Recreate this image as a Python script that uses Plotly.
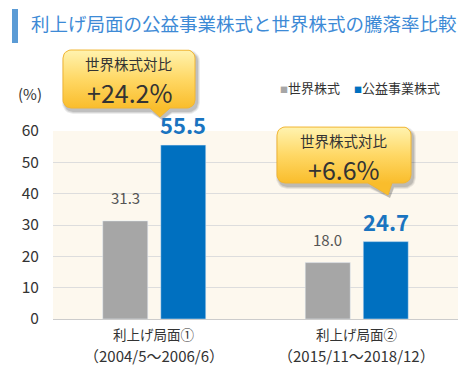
import plotly.graph_objects as go
import math

period_names = ["利上げ局面①", "利上げ局面②"]
period_ranges = ["（2004/5～2006/6）", "（2015/11～2018/12）"]
world_vals = [31.3, 18.0]
util_vals = [55.5, 24.7]
series_names = ["世界株式", "公益事業株式"]
callout_titles = ["世界株式対比", "世界株式対比"]
callout_values = ["+24.2%", "+6.6%"]
y_ticks = [0, 10, 20, 30, 40, 50, 60]
title_text = "利上げ局面の公益事業株式と世界株式の騰落率比較"

categories = period_names

FONT = "Noto Sans CJK JP"
PAGE_W, PAGE_H = 470, 365
OFF = 8  # default body margin of the html page
W, H = PAGE_W - OFF, PAGE_H - OFF
GRAY = "#a6a6a6"
BLUE = "#0070c0"

# plot area in page pixels
PL, PR, PT, PB = 53, 458, 131, 319

fig = go.Figure()

fig.add_trace(go.Bar(
    x=categories, y=world_vals, name=series_names[0], marker_color=GRAY,
    showlegend=False, xaxis="x", yaxis="y", hoverinfo="skip"))
fig.add_trace(go.Bar(
    x=categories, y=util_vals, name=series_names[1], marker_color=BLUE,
    showlegend=False, xaxis="x", yaxis="y", hoverinfo="skip"))


def callout(x0, y0, x1, y1, r, pb0, pb1, tip):
    pts = []
    def arc(cx, cy, a0, a1):
        for i in range(7):
            a = math.radians(a0 + (a1 - a0) * i / 6)
            pts.append((cx + r * math.cos(a), cy + r * math.sin(a)))
    arc(x0 + r, y0 + r, 180, 270)
    arc(x1 - r, y0 + r, 270, 360)
    arc(x1 - r, y1 - r, 0, 90)
    pts.append((pb1, y1))
    pts.append(tip)
    pts.append((pb0, y1))
    arc(x0 + r, y1 - r, 90, 180)
    pts.append(pts[0])
    return [p[0] for p in pts], [p[1] for p in pts]


callouts = [
    dict(box=(63, 50, 195, 108), pb=(150, 170), tip=(160, 117)),
    dict(box=(277, 127, 411, 183), pb=(368, 392), tip=(388, 195)),
]
for c in callouts:
    x0, y0, x1, y1 = c["box"]
    for off, alpha in [(3, 0.07), (2, 0.09), (1, 0.11)]:
        sx, sy = callout(x0 - off + 2, y0 - off + 3, x1 + off + 2, y1 + off + 3, 8 + off,
                         c["pb"][0] + 2, c["pb"][1] + 2, (c["tip"][0] + 2, c["tip"][1] + 3))
        fig.add_trace(go.Scatter(x=sx, y=sy, mode="lines", fill="toself", line=dict(width=0),
                                 fillcolor=f"rgba(0,0,0,{alpha})", hoverinfo="skip",
                                 showlegend=False, xaxis="x2", yaxis="y2"))
    px, py = callout(x0, y0, x1, y1, 8, c["pb"][0], c["pb"][1], c["tip"])
    fig.add_trace(go.Scatter(
        x=px, y=py, mode="lines", fill="toself",
        line=dict(width=1, color="#f2b632"),
        fillgradient=dict(type="vertical",
                          colorscale=[[0, "#fff3b0"], [0.5, "#ffd865"], [1, "#f9bd2c"]],
                          start=y0, stop=y1),
        hoverinfo="skip", showlegend=False, xaxis="x2", yaxis="y2"))

annotations = []
for c, t, v in zip(callouts, callout_titles, callout_values):
    x0, y0, x1, y1 = c["box"]
    cx = (x0 + x1) / 2
    annotations.append(dict(x=cx, y=y0 + 13, xref="x2", yref="y2", text=t, showarrow=False,
                            font=dict(size=14.5, color="#333333", family=FONT)))
    annotations.append(dict(x=cx, y=y0 + 42, xref="x2", yref="y2", text=v, showarrow=False,
                            font=dict(size=25, color="#333333", family=FONT)))

# value labels above bars
for cat, v in zip(categories, world_vals):
    annotations.append(dict(x=cat, y=v, xref="x", yref="y", text=f"{v:.1f}", showarrow=False,
                            xshift=-29, yshift=11, yanchor="bottom",
                            font=dict(size=15, color="#555555", family=FONT)))
for cat, v in zip(categories, util_vals):
    annotations.append(dict(x=cat, y=v, xref="x", yref="y", text=f"<b>{v:.1f}</b>", showarrow=False,
                            xshift=29, yshift=3, yanchor="bottom",
                            font=dict(size=22, color="#1a74c0", family=FONT)))

# category labels (two lines)
for cat, rng in zip(categories, period_ranges):
    annotations.append(dict(x=cat, y=334, xref="x", yref="y2", text=cat, showarrow=False,
                            borderpad=0,
                            font=dict(size=13.5, color="#333333", family=FONT)))
    annotations.append(dict(x=cat, y=355, xref="x", yref="y2", text=rng, showarrow=False,
                            borderpad=0,
                            font=dict(size=15, color="#333333", family=FONT)))

annotations.append(dict(x=29, y=23, xref="x2", yref="y2", text=title_text, showarrow=False,
                        xanchor="left", font=dict(size=18.5, color="#3d8ad6", family=FONT)))
annotations.append(dict(x=30, y=93, xref="x2", yref="y2", text="(%)", showarrow=False,
                        font=dict(size=15, color="#333333", family=FONT)))
annotations.append(dict(x=278, y=87, xref="x2", yref="y2", xanchor="left", showarrow=False,
                        text=f"<span style='color:{GRAY};font-size:8px'>■</span>{series_names[0]}",
                        font=dict(size=13, color="#333333", family=FONT)))
annotations.append(dict(x=352, y=87, xref="x2", yref="y2", xanchor="left", showarrow=False,
                        text=f"<span style='color:{BLUE};font-size:8px'>■</span>{series_names[1]}",
                        font=dict(size=13, color="#333333", family=FONT)))

shapes = [
    dict(type="rect", xref="x domain", yref="y domain", x0=0, x1=1, y0=0, y1=1,
         fillcolor="#fdf8ee", line=dict(width=0), layer="below"),
    dict(type="rect", xref="x2", yref="y2", x0=12, x1=18, y0=9, y1=43,
         fillcolor="#5b9bd5", line=dict(width=0)),
]

fig.update_layout(
    width=W, height=H,
    margin=dict(l=0, r=0, t=0, b=0, pad=0),
    paper_bgcolor="white", plot_bgcolor="rgba(0,0,0,0)",
    barmode="group", bargap=0.427, bargroupgap=0.224,
    font=dict(family=FONT, color="#333333"),
    xaxis=dict(domain=[(PL - OFF) / W, (PR - OFF) / W], anchor="y", showgrid=False,
               automargin=False, showticklabels=False, ticks="",
               showline=False, fixedrange=True),
    yaxis=dict(domain=[(PAGE_H - PB) / H, (PAGE_H - PT) / H], anchor="x", range=[0, 60],
               automargin=False,
               tickvals=y_ticks, showgrid=True, gridcolor="#dddddd", gridwidth=1,
               zeroline=True, zerolinecolor="#cccccc", zerolinewidth=1,
               tickfont=dict(size=15.5, color="#333333"), ticks="outside", ticklen=10,
               tickcolor="rgba(0,0,0,0)", fixedrange=True),
    xaxis2=dict(domain=[0, 1], anchor="y2", range=[OFF, PAGE_W], visible=False,
                fixedrange=True, automargin=False),
    yaxis2=dict(domain=[0, 1], anchor="x2", range=[PAGE_H, OFF], visible=False,
                fixedrange=True, automargin=False),
    annotations=annotations, shapes=shapes,
)

fig.write_html("out.html")
